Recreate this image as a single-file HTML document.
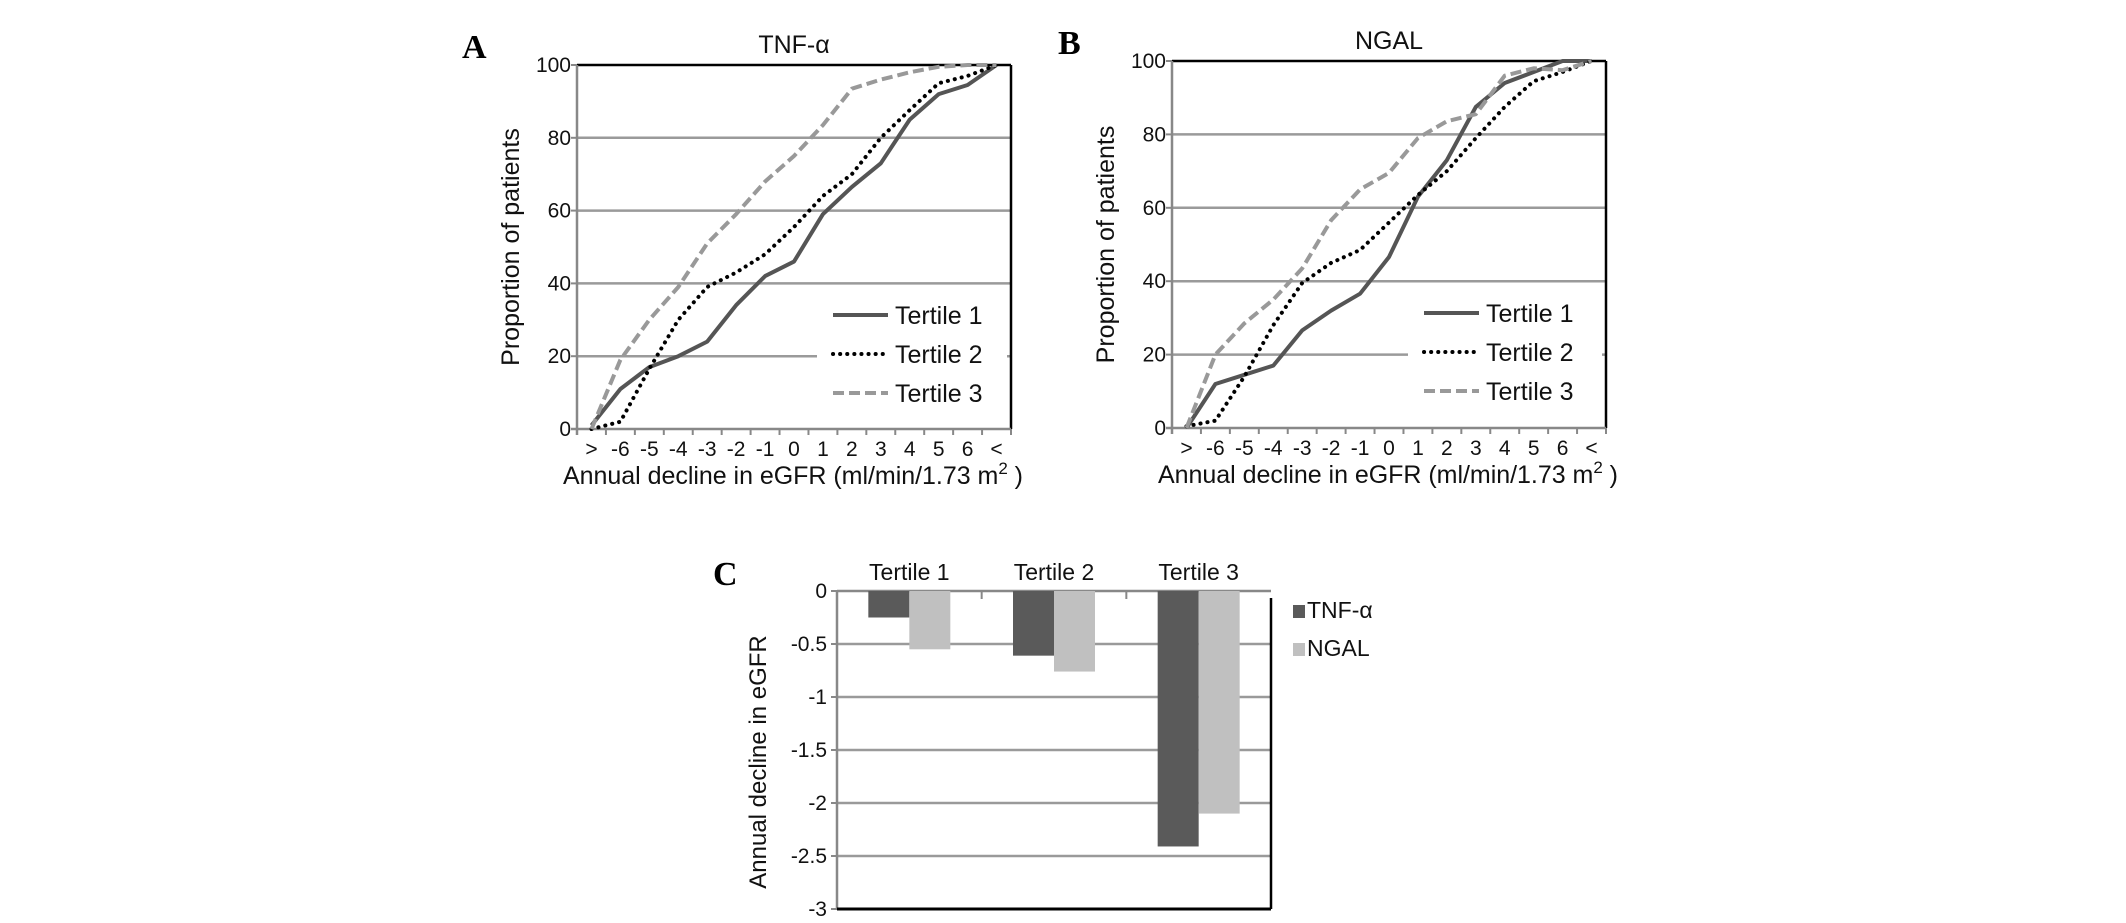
<!DOCTYPE html>
<html><head><meta charset="utf-8"><style>
html,body{margin:0;padding:0;background:#fff;}
svg{display:block;font-family:"Liberation Sans",Arial,sans-serif;}
</style></head><body>
<svg id="fig" width="2126" height="923" viewBox="0 0 2126 923" xmlns="http://www.w3.org/2000/svg">
<rect width="2126" height="923" fill="#fff"/>
<g id="panelA"></g>
<g id="panelB"></g>
<g id="panelC"></g>
</svg>
<script>
const NS='http://www.w3.org/2000/svg';
const xCategories=['>','-6','-5','-4','-3','-2','-1','0','1','2','3','4','5','6','<'];
const yTicksLine=[0,20,40,60,80,100];
const tnfT1=[1,11,17,20,24,34,42,46,59,66.5,73,85,92,94.5,100];
const tnfT2=[0,2,16.5,30,39,43,48,55.5,64,70,80,87.6,95,97,100];
const tnfT3=[0,19,30,39,51,59,68,75,83.5,93.5,96,98,99.5,100,100];
const ngalT1=[0,12,14.5,17,26.6,32,36.6,46.6,63,73,87.5,94,97,100,100];
const ngalT2=[0.5,2,14,28,39.5,45,48.5,56,63.5,70,79,87.5,94.5,97,100];
const ngalT3=[0,20,28.5,35,43.5,56.6,65,69.5,79,83.6,85.5,96,98,97.5,100];
const barCategories=['Tertile  1','Tertile  2','Tertile  3'];
const barTNF=[-0.25,-0.61,-2.41];
const barNGAL=[-0.55,-0.76,-2.1];
const yTicksBar=[0,-0.5,-1,-1.5,-2,-2.5,-3];

function el(tag,attrs,parent,text){const e=document.createElementNS(NS,tag);for(const k in attrs)e.setAttribute(k,attrs[k]);if(text!==undefined)e.textContent=text;parent.appendChild(e);return e;}

function linePanel(g,cfg){
  const L=cfg.left,R=cfg.right,T=cfg.top,B=cfg.bottom;
  const n=xCategories.length, cw=(R-L)/n;
  const xs=i=>L+cw*(i+0.5);
  const ys=v=>B-(v/100)*(B-T);
  yTicksLine.forEach(v=>{ if(v>0&&v<100){const l=el('line',{x1:L,x2:R,y1:ys(v),y2:ys(v),stroke:'#9a9a9a','stroke-width':2.5},g);}
    const t=el('text',{x:L-6,y:ys(v)+7,'font-size':21,'text-anchor':'end',fill:'#111'},g,String(v));});
  const lb=el('rect',{x:cfg.legX-16,y:ys(20)-50,width:R-4-(cfg.legX-16),height:130,fill:'#fff'},g);
  
  el('line',{x1:L,x2:R,y1:T,y2:T,stroke:'#000','stroke-width':2.5},g);
  el('line',{x1:R,x2:R,y1:T,y2:B,stroke:'#000','stroke-width':2.5},g);
  const ya=el('line',{x1:L,x2:L,y1:T,y2:B+6,stroke:'#888','stroke-width':2.5},g);
  const xa=el('line',{x1:L-6,x2:R,y1:B,y2:B,stroke:'#888','stroke-width':2.5},g);
  yTicksLine.forEach(v=>el('line',{x1:L-6,x2:L,y1:ys(v),y2:ys(v),stroke:'#888','stroke-width':2},g));
  for(let i=0;i<=n;i++)el('line',{x1:L+cw*i,x2:L+cw*i,y1:B,y2:B+6,stroke:'#888','stroke-width':2},g);
  xCategories.forEach((c,i)=>{const t=el('text',{x:xs(i),y:B+27,'font-size':21,'text-anchor':'middle',fill:'#111'},g,c);});
  const styles=[{stroke:'#555','stroke-width':4},{stroke:'#000','stroke-width':4,'stroke-dasharray':'0.1 7','stroke-linecap':'round'},{stroke:'#999','stroke-width':4,'stroke-dasharray':'11 5'}];
  cfg.series.forEach((s,k)=>{
    const d=s.map((v,i)=>(i?'L':'M')+xs(i).toFixed(1)+' '+ys(v).toFixed(1)).join(' ');
    const p=el('path',Object.assign({d:d,fill:'none','stroke-linejoin':'round'},styles[k]),g);
    
    const ly=cfg.legY+k*39;
    const ll=el('line',Object.assign({x1:cfg.legX,x2:cfg.legX+55,y1:ly,y2:ly},styles[k]),g);
    
    const lt=el('text',{x:cfg.legX+62,y:ly+9,'font-size':25,fill:'#111'},g,'Tertile  '+(k+1));
    
  });
  const tt=el('text',{x:(L+R)/2,y:T-12,'font-size':25,'text-anchor':'middle',fill:'#111'},g,cfg.title);
  
  const pl=el('text',{x:cfg.letterX,y:T-7,'font-size':34,'font-weight':'bold','font-family':'Liberation Serif,serif',fill:'#000'},g,cfg.letter);
  
  const yt=el('text',{x:0,y:0,'font-size':25,'text-anchor':'middle',fill:'#111',transform:'translate('+(L-58)+','+((T+B)/2)+') rotate(-90)'},g,'Proportion of patients');
  
  const xt=el('text',{x:L-14,y:B+55,'font-size':25,fill:'#111',textLength:460},g);
  
  xt.appendChild(document.createTextNode('Annual decline in eGFR (ml/min/1.73 m'));
  el('tspan',{dy:-10,'font-size':17},xt,'2');
  el('tspan',{dy:10},xt,' )');
}
linePanel(document.getElementById('panelA'),{left:577,right:1011,top:65,bottom:429,title:'TNF-α',letter:'A',letterX:462,legX:833,legY:315,series:[tnfT1,tnfT2,tnfT3]});
linePanel(document.getElementById('panelB'),{left:1172,right:1606,top:61,bottom:428,title:'NGAL',letter:'B',letterX:1058,legX:1424,legY:313,series:[ngalT1,ngalT2,ngalT3]});

(function(){
  const g=document.getElementById('panelC');
  const L=837,R=1271,T=591,B=909;
  const ys=v=>T+(-v/3)*(B-T);
  const cw=(R-L)/barCategories.length, bw=41;
  yTicksBar.forEach(v=>{
    if(v<0&&v>-3){const l=el('line',{x1:L,x2:R,y1:ys(v),y2:ys(v),stroke:'#9a9a9a','stroke-width':2.5},g);}
    el('line',{x1:L-6,x2:L,y1:ys(v),y2:ys(v),stroke:'#888','stroke-width':2},g);
    const t=el('text',{x:L-10,y:ys(v)+7,'font-size':21,'text-anchor':'end',fill:'#111'},g,String(v));
    
  });
  el('line',{x1:L,x2:R,y1:T,y2:T,stroke:'#888','stroke-width':2.5},g);
  el('line',{x1:L,x2:L,y1:T,y2:B,stroke:'#888','stroke-width':2.5},g);
  el('line',{x1:R,x2:R,y1:T+7,y2:B,stroke:'#000','stroke-width':2.5},g);
  el('line',{x1:L,x2:R,y1:B,y2:B,stroke:'#000','stroke-width':3},g);
  for(let i=1;i<barCategories.length;i++)el('line',{x1:L+cw*i,x2:L+cw*i,y1:T,y2:T+8,stroke:'#888','stroke-width':2},g);
  barCategories.forEach((c,i)=>{
    const cx=L+cw*(i+0.5);
    const b1=el('rect',{x:cx-bw,y:ys(0),width:bw,height:ys(barTNF[i])-ys(0),fill:'#5a5a5a'},g);
    
    const b2=el('rect',{x:cx,y:ys(0),width:bw,height:ys(barNGAL[i])-ys(0),fill:'#c0c0c0'},g);
    
    const t=el('text',{x:cx,y:T-11,'font-size':23,'text-anchor':'middle',fill:'#111'},g,c);
    
  });
  const s1=el('rect',{x:1293,y:605,width:12,height:13,fill:'#5a5a5a'},g);
  const t1=el('text',{x:1307,y:618,'font-size':23,fill:'#111'},g,'TNF-α');
  const s2=el('rect',{x:1293,y:643,width:12,height:13,fill:'#c0c0c0'},g);
  const t2=el('text',{x:1307,y:656,'font-size':23,fill:'#111'},g,'NGAL');
  const yt=el('text',{x:0,y:0,'font-size':24,'text-anchor':'middle',fill:'#111',transform:'translate(766,762) rotate(-90)'},g,'Annual decline in eGFR');
  
  const pl=el('text',{x:713,y:585,'font-size':34,'font-weight':'bold','font-family':'Liberation Serif,serif',fill:'#000'},g,'C');
  
})();
</script>
</body></html>
